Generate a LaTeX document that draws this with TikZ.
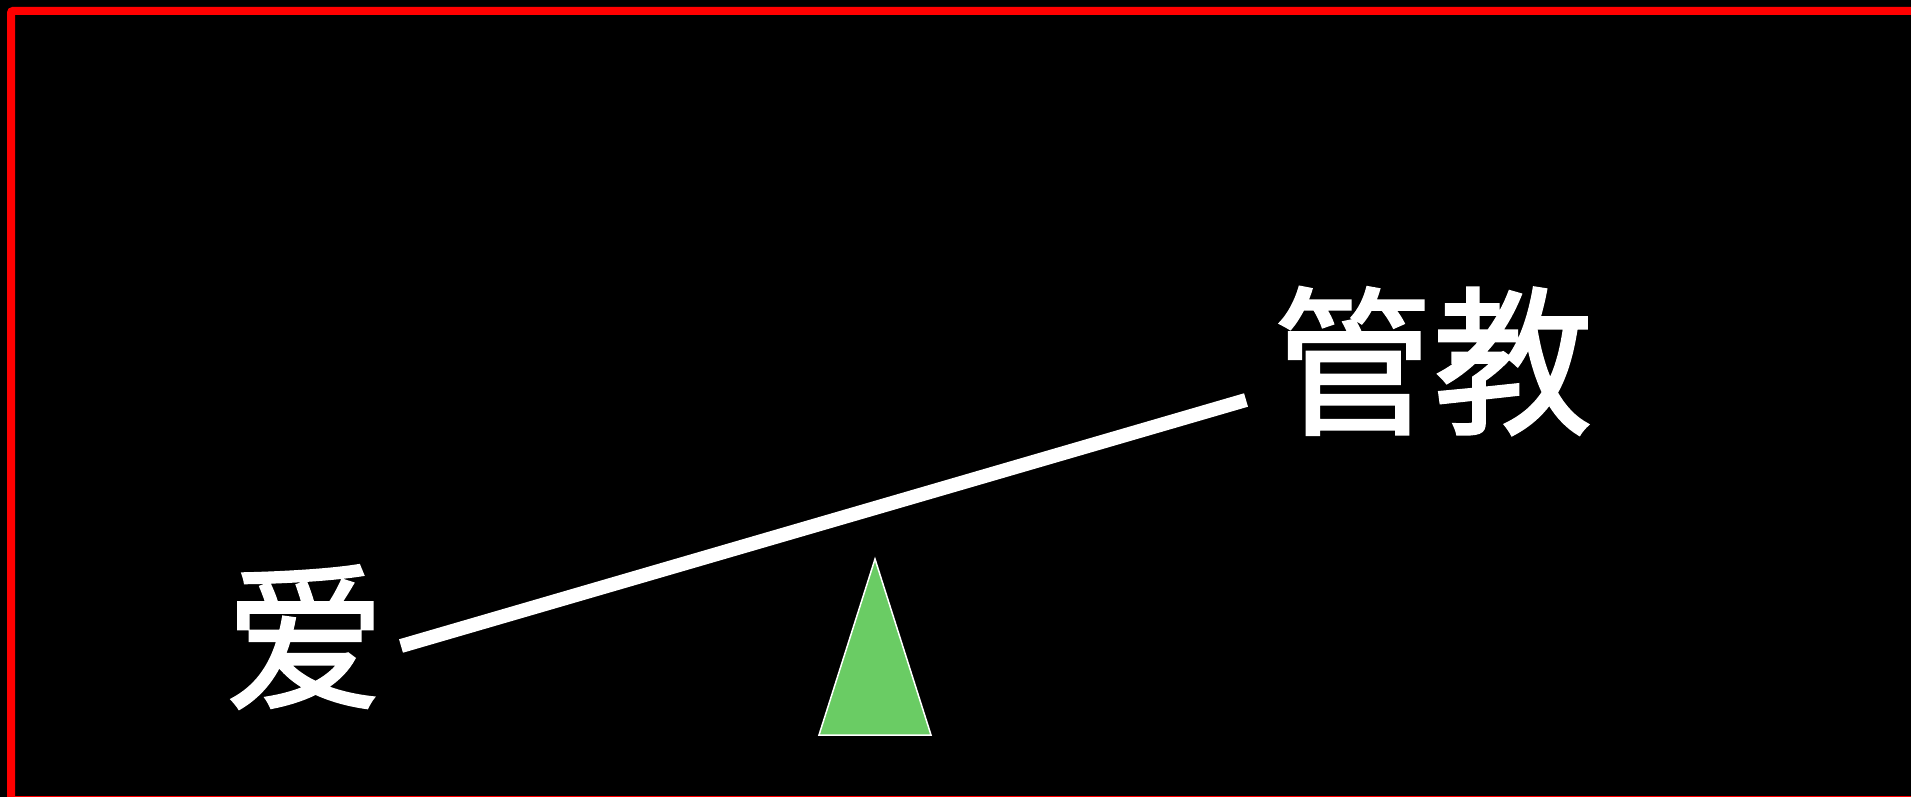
\documentclass[tikz,border=0pt]{standalone}
\usepackage{fontspec}
\newfontfamily\cjk[FakeBold=1.5]{Noto Sans CJK SC}
\definecolor{fulcrumgreen}{RGB}{106,204,100}
\definecolor{framered}{RGB}{255,0,0}
\begin{document}
\begin{tikzpicture}[x=1pt,y=-1pt,
  word/.style={text=white,font=\cjk\fontsize{160}{160}\selectfont,inner sep=0pt,anchor=center},
  plank/.style={draw=white,line width=14pt,line cap=butt},
  fulcrum/.style={fill=fulcrumgreen,draw=white,line width=1.5pt,line join=miter}]
\useasboundingbox (0,0) rectangle (1911,797);
\fill[black] (0,0) rectangle (1911,797);
\begin{scope}
\clip (0,0) rectangle (1911,797);
\draw[framered,line width=8pt,rounded corners=2pt] (11,11) rectangle (1930,800);
\end{scope}
\node[word] (ai) at (305,637) {爱};
\node[word] (guanjiao) at (1433,361) {管教};
\coordinate (plankL) at (401,646);
\coordinate (plankR) at (1246,400);
\draw[plank] (plankL) -- (plankR);
\coordinate (tip) at (875,559);
\coordinate (baseL) at (819,735);
\coordinate (baseR) at (931,735);
\filldraw[fulcrum] (tip) -- (baseR) -- (baseL) -- cycle;
\end{tikzpicture}
\end{document}
